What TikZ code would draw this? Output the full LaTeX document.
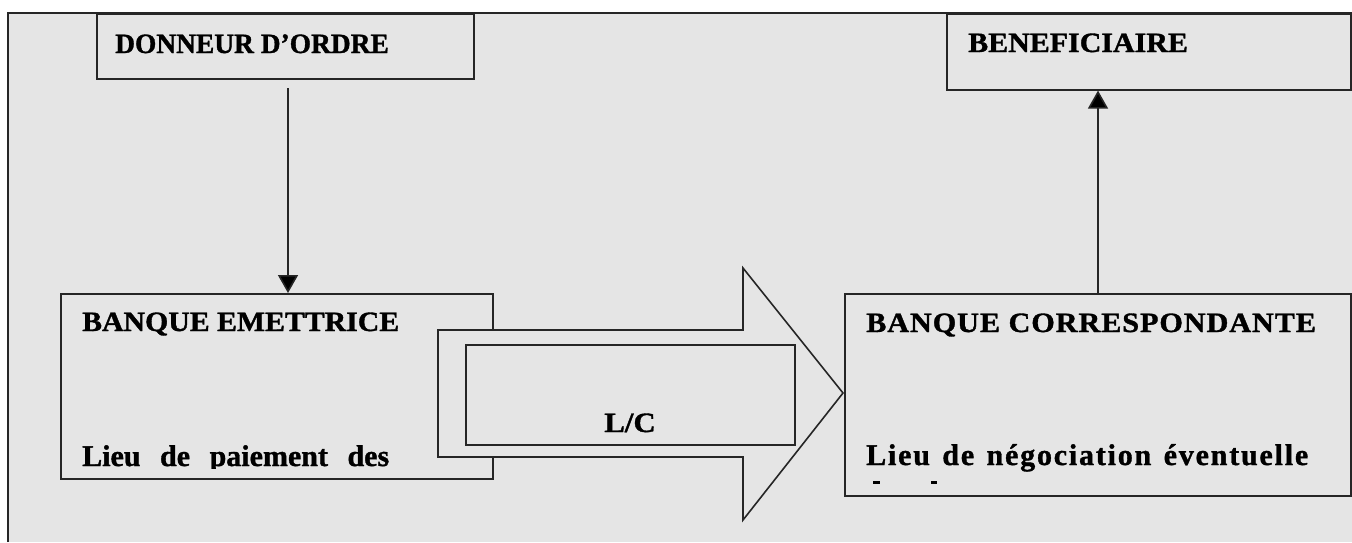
\documentclass[tikz,border=0pt]{standalone}
\usepackage{fontspec}
\setmainfont{Liberation Serif}[BoldFeatures={FakeBold=1.2}]
\usetikzlibrary{arrows.meta}
\definecolor{panel}{HTML}{E5E5E5}
\definecolor{ink}{HTML}{262626}
\begin{document}
\begin{tikzpicture}[x=1pt,y=-1pt,
  box/.style={draw=ink,line width=1.6pt,fill=panel,inner sep=0pt,anchor=north west},
  lbl/.style={font=\bfseries\fontsize{28}{34}\selectfont,inner sep=0pt,anchor=base west},
  body/.style={font=\bfseries\fontsize{30}{36}\selectfont,inner sep=0pt,anchor=base west},
  arr/.style={draw=ink,line width=1.6pt,-{Triangle[width=20pt,length=18pt,fill=black]}}]

\useasboundingbox (0,0) rectangle (1352,542);
\fill[white] (0,0) rectangle (1352,542);
\fill[panel] (8,13) rectangle (1352,542);
\draw[ink,line width=1.6pt] (8,542) -- (8,13) -- (1352,13);

% ordering party
\node[box,minimum width=377pt,minimum height=65pt] (don) at (96,13) {};
\node[lbl] (dontxt) at (115,53) {\scalebox{0.98}[1]{DONNEUR D’ORDRE}};

% beneficiary
\node[box,minimum width=404pt,minimum height=76pt] (ben) at (946,13) {};
\node[lbl] (bentxt) at (968,52) {\scalebox{1.07}[1]{BENEFICIAIRE}};

% issuing bank
\node[box,minimum width=432pt,minimum height=185pt] (eme) at (60,293) {};
\node[lbl] (emetxt) at (82,331) {\scalebox{1.064}[1]{BANQUE EMETTRICE}};
\begin{scope}
  \clip (60,293) rectangle (492,468);
  \node[body] (emelieu) at (82,466) {\makebox[307pt][s]{Lieu de paiement des}};
\end{scope}

% block arrow carrying the L/C
\draw[ink,line width=1.6pt,fill=panel,line join=miter]
  (438,330) -- (743,330) -- (743,268) -- (843,393) -- (743,520) -- (743,457) -- (438,457) -- cycle;
\node[box,minimum width=329pt,minimum height=100pt] (lc) at (465,344) {};
\node[lbl,anchor=base] (lctxt) at (630,432) {\scalebox{1.1}[1]{L/C}};

% correspondent bank
\node[box,minimum width=506pt,minimum height=202pt] (corr) at (844,293) {};
\node[lbl] (corrtxt) at (866,332) {\addfontfeatures{LetterSpace=3}\scalebox{1.08}[1]{BANQUE CORRESPONDANTE}};
\begin{scope}
  \clip (844,293) rectangle (1350,484);
  \node[body] (corrlieu) at (866,465) {\addfontfeatures{LetterSpace=6}\makebox[442pt][s]{Lieu de négociation éventuelle}};
\end{scope}
\fill[black] (873,481) rectangle (880,484);
\fill[black] (931,481) rectangle (937,484);

% flows
\coordinate (d0) at (288,88);
\draw[arr] (d0) -- (d0 |- eme.north);
\coordinate (u0) at (1098,200);
\draw[arr] (u0 |- corr.north) -- (u0 |- ben.south);
\end{tikzpicture}
\end{document}
